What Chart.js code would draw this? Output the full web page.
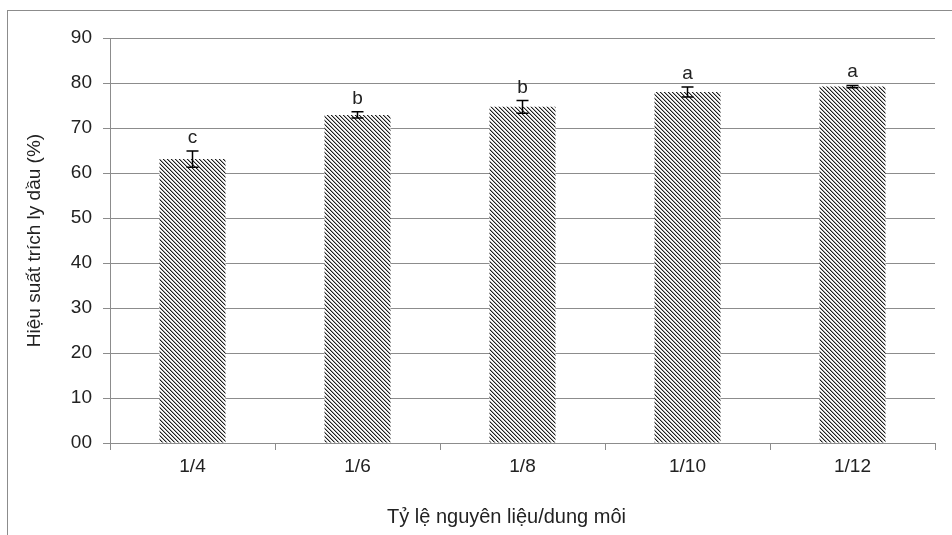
<!DOCTYPE html>
<html>
<head>
<meta charset="utf-8">
<script src="https://cdn.jsdelivr.net/npm/chart.js@4.4.1/dist/chart.umd.min.js"></script>
<style>
  html, body { margin: 0; padding: 0; background: #fff; overflow: hidden; }
  #frame { position: absolute; left: 7px; top: 10px; width: 1000px; height: 600px; border: 1px solid #8c8c8c; box-sizing: border-box; }
  #wrap { position: absolute; left: 0; top: 0; width: 952px; height: 535px; }
</style>
</head>
<body>
<div id="frame"></div>
<div id="wrap"><canvas id="c" width="952" height="535"></canvas></div>
<script>
// ---- data ----
const categories = ['1/4', '1/6', '1/8', '1/10', '1/12'];
const yieldValues = [63.1, 72.9, 74.7, 78.0, 79.2];
const errorValues = [1.8, 0.7, 1.4, 1.1, 0.25];
const groupLetters = ['c', 'b', 'b', 'a', 'a'];
const yTickLabels = ['00', '10', '20', '30', '40', '50', '60', '70', '80', '90'];
const xTitle = 'Tỷ lệ nguyên liệu/dung môi';
const yTitle = 'Hiệu suất trích ly dầu (%)';

const FONT = 'Liberation Sans, Arial, sans-serif';
const TEXT = '#222';
const GRID = '#8c8c8c';

// hatch pattern "\\\\"
function makeHatch() {
  const t = document.createElement('canvas');
  t.width = 4; t.height = 4;
  const g = t.getContext('2d');
  const img = g.createImageData(4, 4);
  const shades = [30, 165, 255, 240];
  for (let y = 0; y < 4; y++) {
    for (let x = 0; x < 4; x++) {
      const d = ((x - y) % 4 + 4) % 4;
      const v = shades[d];
      const i = (y * 4 + x) * 4;
      img.data[i] = v; img.data[i + 1] = v; img.data[i + 2] = v; img.data[i + 3] = 255;
    }
  }
  g.putImageData(img, 0, 0);
  return document.getElementById('c').getContext('2d').createPattern(t, 'repeat');
}

const errorBarPlugin = {
  id: 'errorBars',
  afterDatasetsDraw(chart) {
    const ctx = chart.ctx;
    const meta = chart.getDatasetMeta(0);
    const y = chart.scales.y;
    ctx.save();
    ctx.strokeStyle = '#000';
    ctx.lineWidth = 1.5;
    meta.data.forEach((bar, i) => {
      const x = bar.x;
      const top = y.getPixelForValue(yieldValues[i] + errorValues[i]);
      const bot = y.getPixelForValue(yieldValues[i] - errorValues[i]);
      const cw = 6;
      ctx.beginPath();
      ctx.moveTo(x, top); ctx.lineTo(x, bot);
      ctx.moveTo(x - cw, top); ctx.lineTo(x + cw, top);
      ctx.moveTo(x - cw, bot); ctx.lineTo(x + cw, bot);
      ctx.stroke();
      ctx.fillStyle = TEXT;
      ctx.font = '19px ' + FONT;
      ctx.textAlign = 'center';
      ctx.textBaseline = 'alphabetic';
      ctx.fillText(groupLetters[i], x, top - 8);
    });
    // x axis title
    const xs = chart.scales.x;
    ctx.fillStyle = TEXT;
    ctx.font = '20px ' + FONT;
    ctx.textAlign = 'center';
    ctx.textBaseline = 'alphabetic';
    ctx.fillText(xTitle, (xs.left + xs.right) / 2 - 16, 523);
    ctx.restore();
  }
};

const chart = new Chart(document.getElementById('c'), {
  type: 'bar',
  data: {
    labels: categories,
    datasets: [{
      data: yieldValues,
      backgroundColor: makeHatch(),
      borderWidth: 0,
      barPercentage: 0.4,
      categoryPercentage: 1.0
    }]
  },
  options: {
    responsive: false,
    animation: false,
    layout: { padding: { left: 19, right: 17, top: 38, bottom: 0 } },
    plugins: { legend: { display: false }, tooltip: { enabled: false } },
    scales: {
      x: {
        offset: true,
        grid: { offset: true, drawOnChartArea: false, drawTicks: true, tickLength: 7, color: GRID, lineWidth: 1 },
        border: { color: GRID, width: 1 },
        ticks: { color: TEXT, font: { family: FONT, size: 19 }, padding: 5, maxRotation: 0 },
        afterFit(s) { s.height = 92; }
      },
      y: {
        min: 0, max: 90,
        ticks: {
          stepSize: 10, color: TEXT, font: { family: FONT, size: 19 }, padding: 11,
          callback: (v, i) => yTickLabels[i]
        },
        grid: { color: GRID, lineWidth: 1, tickLength: 7, drawTicks: true },
        border: { color: GRID, width: 1 },
        title: { display: true, text: yTitle, color: TEXT, font: { family: FONT, size: 19 }, padding: 4 },
        afterFit(s) { s.width = 91; }
      }
    }
  },
  plugins: [errorBarPlugin]
});
</script>
</body>
</html>
